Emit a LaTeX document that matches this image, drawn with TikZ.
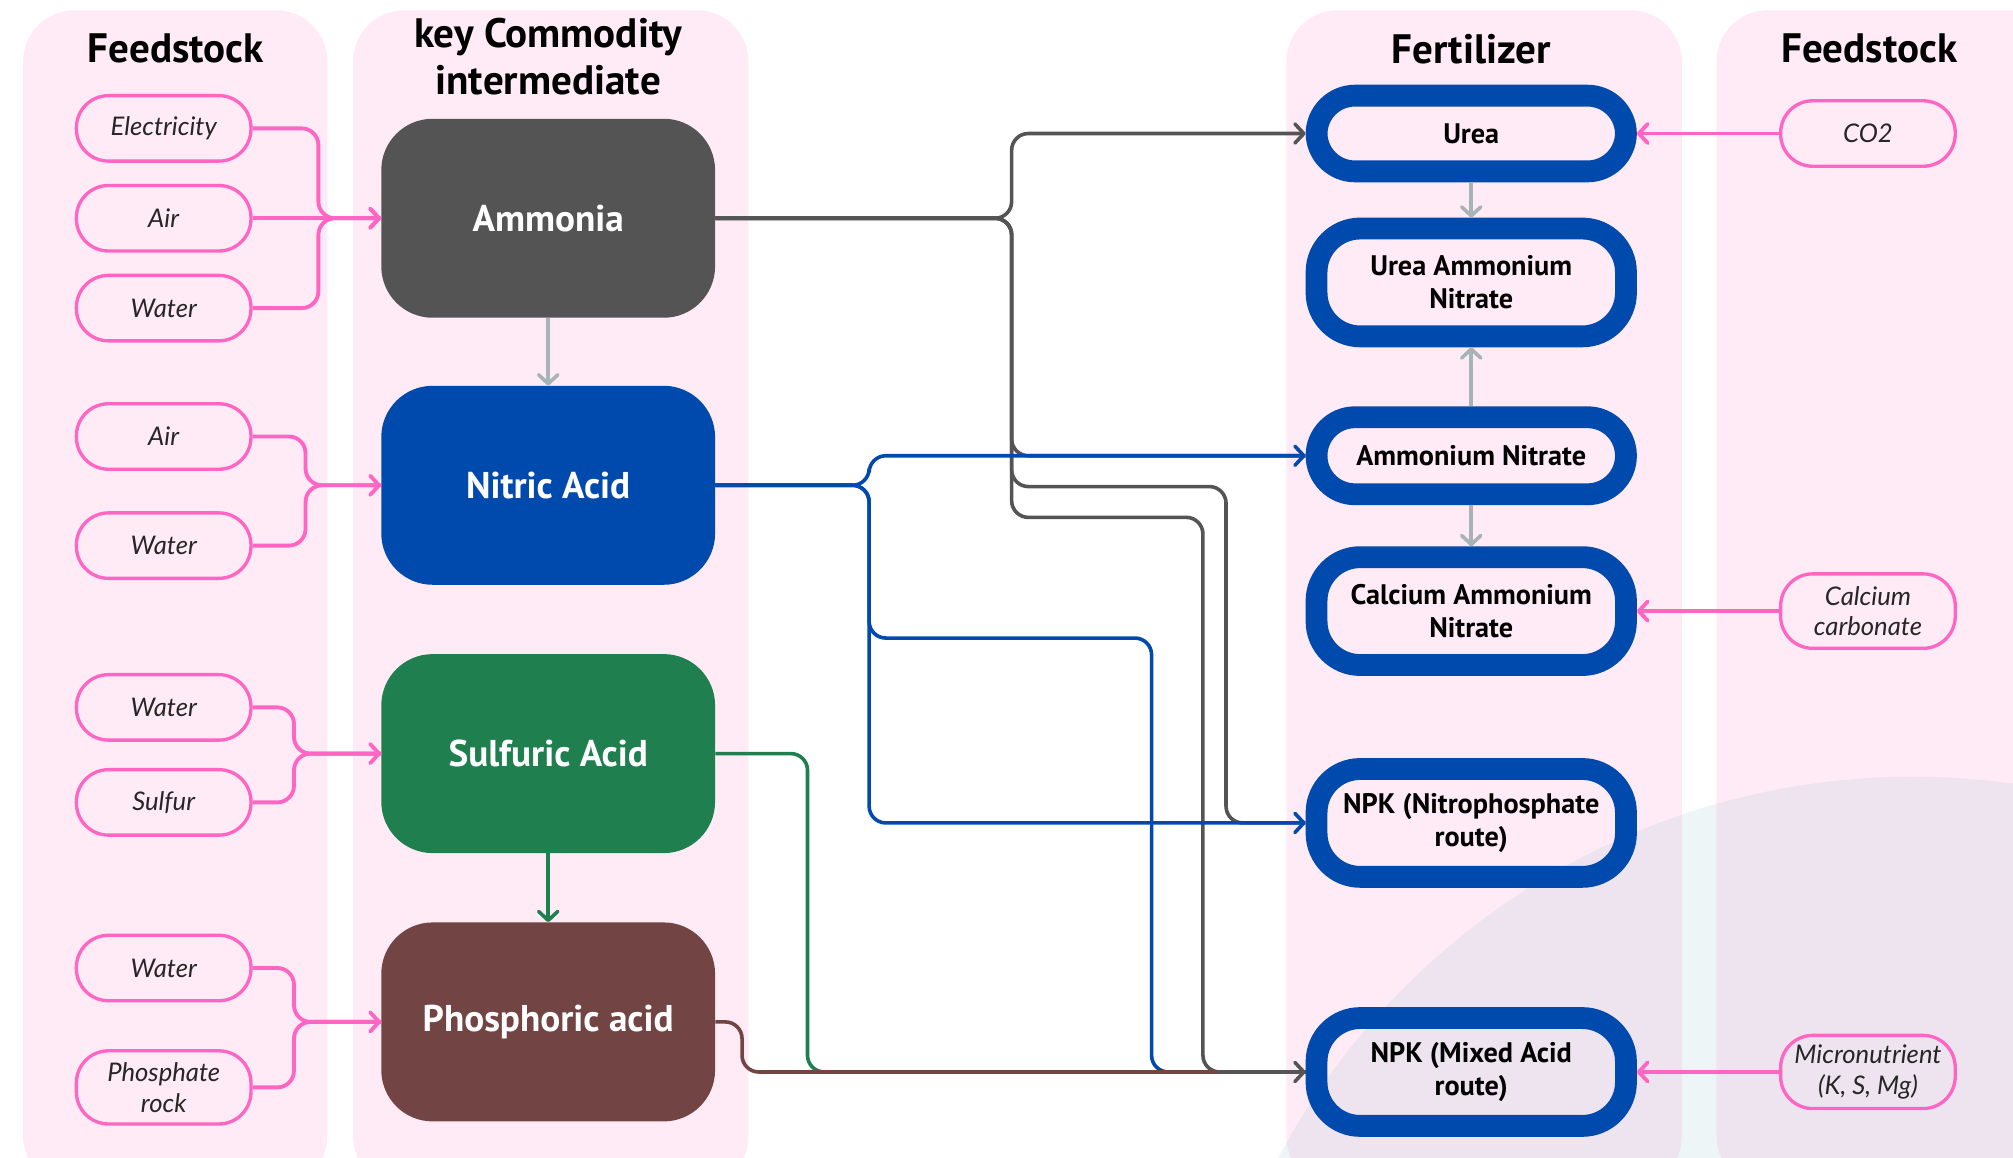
\documentclass[tikz,border=0pt]{standalone}
\usepackage{fontspec}
\setmainfont{PT Sans}
\newfontfamily\labfont{Lato}
\usetikzlibrary{arrows.meta,calc}
\definecolor{panelpink}{HTML}{FFEBF5}
\definecolor{pinkc}{HTML}{FF66C4}
\definecolor{greyc}{HTML}{545454}
\definecolor{bluec}{HTML}{004AAD}
\definecolor{greenc}{HTML}{1F7F4F}
\definecolor{brownc}{HTML}{734444}
\definecolor{lightg}{HTML}{A6B4B8}
\definecolor{tintc}{HTML}{8FC0D0}
\tikzset{
  feed/.style={draw=pinkc, line width=2.6pt, rounded corners=25pt, minimum width=136pt,
    minimum height=51pt, inner sep=0pt, align=center, text=black!85,
    font=\labfont\itshape\fontsize{20}{24}\selectfont},
  fert/.style={draw=bluec, line width=17pt, rounded corners=30pt, minimum width=241pt,
    minimum height=84pt, inner sep=0pt, align=center, text=black,
    font=\bfseries\fontsize{22}{26}\selectfont},
  inter/.style={rounded corners=40pt, minimum width=260pt, minimum height=155pt,
    inner sep=0pt, text=white, font=\bfseries\fontsize{29}{32}\selectfont},
  head/.style={align=center, text=black, font=\bfseries\fontsize{32}{37}\selectfont},
  arr/.style={-{Straight Barb[length=7pt,width=15pt,round]}},
  pinkline/.style={draw=pinkc, line width=3pt, rounded corners=13pt},
  conn/.style={line width=2.8pt, rounded corners=13pt},
}
\begin{document}
\begin{tikzpicture}[x=1pt,y=-1pt]
\useasboundingbox (0,0) rectangle (1568,902);
\clip (0,0) rectangle (1568,902);
\fill[white] (0,0) rectangle (1568,902);
% panels
\fill[panelpink, rounded corners=40pt] (18,8) rectangle (255,925);
\fill[panelpink, rounded corners=40pt] (275,8) rectangle (583,925);
\fill[panelpink, rounded corners=40pt] (1002,8) rectangle (1310,925);
\fill[panelpink, rounded corners=40pt] (1337,8) rectangle (1620,925);
% faint tint
\fill[tintc, opacity=0.15] (1490,1165) circle (560);
% headers
\node[head] (h1) at (137,38) {Feedstock};
\node[head] (h2) at (427,44) {key Commodity\\intermediate};
\node[head] (h3) at (1146,38) {Fertilizer};
\node[head] (h4) at (1456,38) {Feedstock};
% left feedstock
\node[feed] (e1) at (127.5,100) {Electricity};
\node[feed] (a1) at (127.5,170) {Air};
\node[feed] (w1) at (127.5,240) {Water};
\node[feed] (a2) at (127.5,340) {Air};
\node[feed] (w2) at (127.5,425) {Water};
\node[feed] (w3) at (127.5,551) {Water};
\node[feed] (s1) at (127.5,625) {Sulfur};
\node[feed] (w4) at (127.5,754) {Water};
\node[feed, minimum height=57pt] (pr) at (127.5,847) {Phosphate\\rock};
% intermediates
\node[inter, fill=greyc] (amm) at (427,170) {Ammonia};
\node[inter, fill=bluec] (nit) at (427,378) {Nitric Acid};
\node[inter, fill=greenc] (sul) at (427,587) {Sulfuric Acid};
\node[inter, fill=brownc] (pho) at (427,796) {Phosphoric acid};
% fertilizers
\node[fert, minimum height=59pt] (urea) at (1146,104) {Urea};
\node[fert, rounded corners=34pt] (uan) at (1146,220) {Urea Ammonium\\Nitrate};
\node[fert, minimum height=60pt] (an) at (1146,355) {Ammonium Nitrate};
\node[fert, rounded corners=34pt] (can) at (1146,476) {Calcium Ammonium\\Nitrate};
\node[fert, rounded corners=34pt] (npka) at (1146,641) {NPK (Nitrophosphate\\route)};
\node[fert, rounded corners=34pt] (npkb) at (1146,835) {NPK (Mixed Acid\\route)};
% right feedstock
\node[feed] (co2) at (1455,104) {CO2};
\node[feed, minimum height=58pt] (caco) at (1455,476) {Calcium\\carbonate};
\node[feed, minimum height=57pt] (mic) at (1455,835) {Micronutrient\\(K, S, Mg)};
% pink feed connectors
\draw[pinkline, arr] (e1.east) -| (248,170) -- (amm.west);
\draw[pinkline, arr] (a1.east) -- (amm.west);
\draw[pinkline] (w1.east) -| (248,170) -- (amm.west);
\draw[pinkline, arr] (a2.east) -| (238,378) -- (nit.west);
\draw[pinkline] (w2.east) -| (238,378) -- (nit.west);
\draw[pinkline, arr] (w3.east) -| (229,587) -- (sul.west);
\draw[pinkline] (s1.east) -| (229,587) -- (sul.west);
\draw[pinkline, arr] (w4.east) -| (229,796) -- (pho.west);
\draw[pinkline] (pr.east) -| (229,796) -- (pho.west);
\draw[pinkline, arr] (co2.west) -- (urea.east);
\draw[pinkline, arr] (caco.west) -- (can.east);
\draw[pinkline, arr] (mic.west) -- (npkb.east);
% vertical grey arrows
\draw[draw=lightg, line width=2.8pt, arr] (amm.south) -- (nit.north);
\draw[draw=lightg, line width=2.8pt, arr] (urea.south) -- (uan.north);
\draw[draw=lightg, line width=2.8pt, arr] (an.north) -- (uan.south);
\draw[draw=lightg, line width=2.8pt, arr] (an.south) -- (can.north);
\draw[draw=greenc, line width=2.8pt, arr] (sul.south) -- (pho.north);
% ammonia connectors
\draw[conn, draw=greyc, arr] (amm.east) -| (788,104) -- (urea.west);
\draw[conn, draw=greyc] (amm.east) -| (788,355) -- (an.west);
\draw[conn, draw=greyc] (amm.east) -| (788,379) -| (955,641) -- (npka.west);
\draw[conn, draw=greyc] (amm.east) -| (788,403) -| (937,835) -- (npkb.west);
% sulfuric
\draw[conn, draw=greenc] (sul.east) -| (629,835) -- (npkb.west);
% nitric connectors
\draw[conn, draw=bluec, arr] (nit.east) -| (677,355) -- (an.west);
\draw[conn, draw=bluec, arr] (nit.east) -| (677,641) -- (npka.west);
\draw[conn, draw=bluec] (nit.east) -| (677,497) -| (897,835) -- (npkb.west);
% phosphoric
\draw[conn, draw=brownc] (pho.east) -| (578,835) -- (npkb.west);
\coordinate (gm) at (949,835);
\draw[conn, draw=greyc, arr] (gm) -- (npkb.west);
\end{tikzpicture}
\end{document}
